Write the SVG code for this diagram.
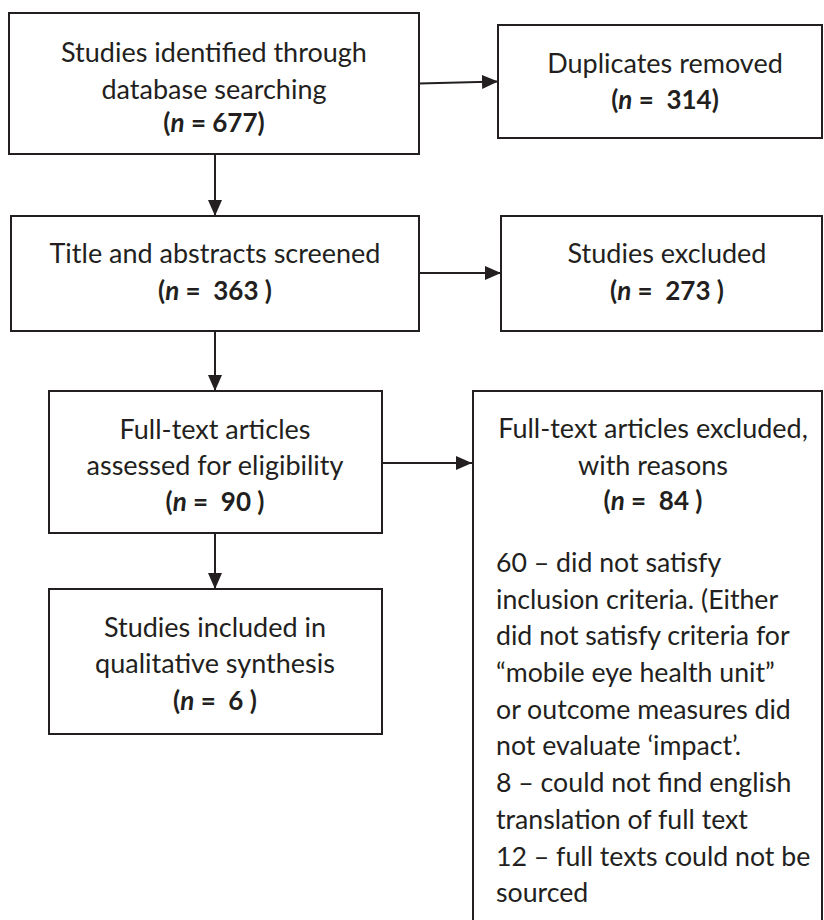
<svg xmlns="http://www.w3.org/2000/svg" width="824" height="920" viewBox="0 0 824 920">
  <style>
    .box { fill: #ffffff; stroke: #231f20; stroke-width: 2; }
    .t { font-family: Lato, "Open Sans", sans-serif; font-size: 27px; fill: #231f20; }
    .c { text-anchor: middle; }
    .b { font-weight: bold; font-size: 26px; }
    .i { font-style: italic; }
    .l { font-size: 26.7px; }
    .conn { stroke: #231f20; stroke-width: 2; fill: none; }
  </style>
  <defs>
    <marker id="arrow" markerUnits="userSpaceOnUse" markerWidth="16" markerHeight="16" viewBox="0 0 16 16" refX="16" refY="8" orient="auto">
      <path d="M0,1 L16,8 L0,15 Z" fill="#231f20"/>
    </marker>
  </defs>
  <rect width="824" height="920" fill="#ffffff"/>

  <g id="connectors">
    <line class="conn" x1="419" y1="83.5" x2="498" y2="81.5" marker-end="url(#arrow)"/>
    <line class="conn" x1="215" y1="154" x2="215" y2="216" marker-end="url(#arrow)"/>
    <line class="conn" x1="419" y1="273" x2="501" y2="273" marker-end="url(#arrow)"/>
    <line class="conn" x1="215" y1="331" x2="215" y2="391" marker-end="url(#arrow)"/>
    <line class="conn" x1="382" y1="463" x2="472" y2="463" marker-end="url(#arrow)"/>
    <line class="conn" x1="215" y1="533" x2="215" y2="589" marker-end="url(#arrow)"/>
  </g>

  <g id="identified">
    <rect class="box" x="9" y="13" width="410" height="141"/>
    <text class="t c" x="214" y="62">Studies identified through</text>
    <text class="t c" x="214" y="99">database searching</text>
    <text class="t c b" x="214" y="132" xml:space="preserve">(<tspan class="i">n</tspan> = 677)</text>
  </g>

  <g id="duplicates">
    <rect class="box" x="498" y="25" width="324" height="113"/>
    <text class="t c" x="665" y="73">Duplicates removed</text>
    <text class="t c b" x="665" y="109" xml:space="preserve">(<tspan class="i">n</tspan> =  314)</text>
  </g>

  <g id="screened">
    <rect class="box" x="11" y="216" width="408" height="115"/>
    <text class="t c" x="215" y="263">Title and abstracts screened</text>
    <text class="t c b" x="215" y="300" xml:space="preserve">(<tspan class="i">n</tspan> =  363 )</text>
  </g>

  <g id="excluded">
    <rect class="box" x="501" y="216" width="321" height="115"/>
    <text class="t c" x="667" y="263">Studies excluded</text>
    <text class="t c b" x="667" y="300" xml:space="preserve">(<tspan class="i">n</tspan> =  273 )</text>
  </g>

  <g id="assessed">
    <rect class="box" x="49" y="391" width="333" height="142"/>
    <text class="t c" x="215" y="439">Full-text articles</text>
    <text class="t c" x="215" y="475">assessed for eligibility</text>
    <text class="t c b" x="215" y="511" xml:space="preserve">(<tspan class="i">n</tspan> =  90 )</text>
  </g>

  <g id="fulltext-excluded">
    <rect class="box" x="473" y="391" width="349" height="540"/>
    <text class="t c" x="653" y="438">Full-text articles excluded,</text>
    <text class="t c" x="653" y="475">with reasons</text>
    <text class="t c b" x="653" y="510" xml:space="preserve">(<tspan class="i">n</tspan> =  84 )</text>
    <text class="t l" x="496" y="572">60 – did not satisfy</text>
    <text class="t l" x="496" y="609">inclusion criteria. (Either</text>
    <text class="t l" x="496" y="645">did not satisfy criteria for</text>
    <text class="t l" x="496" y="682">“mobile eye health unit”</text>
    <text class="t l" x="496" y="719">or outcome measures did</text>
    <text class="t l" x="496" y="755">not evaluate ‘impact’.</text>
    <text class="t l" x="496" y="792">8 – could not find english</text>
    <text class="t l" x="496" y="829">translation of full text</text>
    <text class="t l" x="496" y="866">12 – full texts could not be</text>
    <text class="t l" x="496" y="902">sourced</text>
  </g>

  <g id="included">
    <rect class="box" x="49" y="589" width="333" height="145"/>
    <text class="t c" x="215" y="637">Studies included in</text>
    <text class="t c" x="215" y="673">qualitative synthesis</text>
    <text class="t c b" x="215" y="710" xml:space="preserve">(<tspan class="i">n</tspan> =  6 )</text>
  </g>
</svg>
